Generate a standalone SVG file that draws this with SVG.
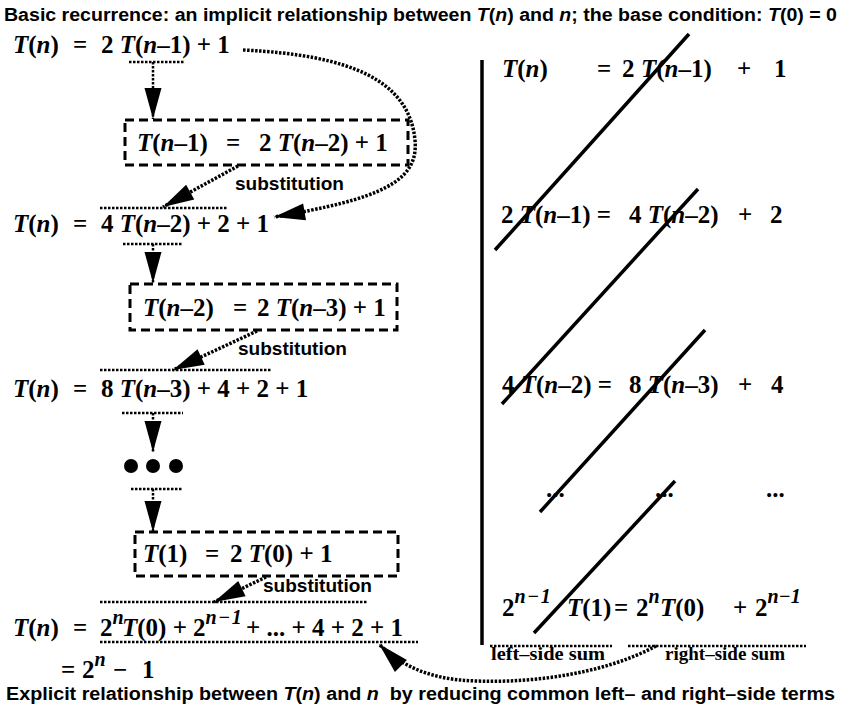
<svg xmlns="http://www.w3.org/2000/svg" width="843" height="709" viewBox="0 0 843 709">
<style>
  .cap { font-family: "Liberation Sans", Arial, sans-serif; font-weight: bold; font-size: 18px; fill: #000; }
  .eq { font-family: "Liberation Serif", "Times New Roman", serif; font-weight: bold; font-size: 25px; fill: #000; }
  .sup { font-style: italic; font-size: 20px; }
  .lbl { font-family: "Liberation Serif", "Times New Roman", serif; font-weight: bold; font-size: 18px; fill: #000; }
  .i { font-style: italic; }
  .box { fill: none; stroke: #000; stroke-width: 3; stroke-dasharray: 9 5; }
  .ul { fill: none; stroke: #000; stroke-width: 2.5; stroke-dasharray: 2.5 1.5; }
  .dot { fill: none; stroke: #000; stroke-width: 3.5; stroke-dasharray: 2.5 1.5; }
  .solid { fill: none; stroke: #000; stroke-width: 3.5; }
</style>
<defs>
  <marker id="ah" markerUnits="userSpaceOnUse" orient="auto" overflow="visible" markerWidth="1" markerHeight="1" refX="0" refY="0">
    <path d="M0,0 L-31,-8.5 L-31,8.5 Z" fill="#000"/>
  </marker>
</defs>

<g id="title">
  <text class="cap" x="4" y="21" textLength="833" lengthAdjust="spacingAndGlyphs">Basic recurrence: an implicit relationship between <tspan class="i">T</tspan>(<tspan class="i">n</tspan>) and <tspan class="i">n</tspan>; the base condition: <tspan class="i">T</tspan>(0) = 0</text>
</g>

<g id="eq1">
  <text class="eq" y="53"><tspan x="13" class="i">T</tspan>(<tspan class="i">n</tspan>)<tspan x="73">=</tspan><tspan x="101">2 </tspan><tspan class="i">T</tspan>(<tspan class="i">n</tspan>–1) + 1</text>
</g>

<g id="box1">
  <rect class="box" x="125" y="120" width="283" height="45"/>
  <text class="eq" y="151"><tspan x="137" class="i">T</tspan>(<tspan class="i">n</tspan>–1)<tspan x="226">=</tspan><tspan x="259">2 </tspan><tspan class="i">T</tspan>(<tspan class="i">n</tspan>–2) + 1</text>
</g>

<g id="eq2">
  <text class="eq" y="232"><tspan x="13" class="i">T</tspan>(<tspan class="i">n</tspan>)<tspan x="73">=</tspan><tspan x="101">4 </tspan><tspan class="i">T</tspan>(<tspan class="i">n</tspan>–2) + 2 + 1</text>
</g>

<g id="box2">
  <rect class="box" x="130" y="284" width="267" height="46"/>
  <text class="eq" y="316"><tspan x="143" class="i">T</tspan>(<tspan class="i">n</tspan>–2)<tspan x="233">=</tspan><tspan x="257">2 </tspan><tspan class="i">T</tspan>(<tspan class="i">n</tspan>–3) + 1</text>
</g>

<g id="eq3">
  <text class="eq" y="397"><tspan x="13" class="i">T</tspan>(<tspan class="i">n</tspan>)<tspan x="73">=</tspan><tspan x="101">8 </tspan><tspan class="i">T</tspan>(<tspan class="i">n</tspan>–3) + 4 + 2 + 1</text>
</g>

<g id="ellipsis">
  <circle cx="131" cy="466" r="7"/>
  <circle cx="153" cy="466" r="7"/>
  <circle cx="176" cy="466" r="7"/>
</g>

<g id="box3">
  <rect class="box" x="135" y="532" width="263" height="44"/>
  <text class="eq" y="562"><tspan x="143" class="i">T</tspan>(1)<tspan x="205">=</tspan><tspan x="230">2 </tspan><tspan class="i">T</tspan>(0) + 1</text>
</g>

<g id="eq4">
  <text class="eq" y="636"><tspan x="13" class="i">T</tspan>(<tspan class="i">n</tspan>)<tspan x="73">=</tspan><tspan x="100">2</tspan><tspan class="sup" dy="-12">n</tspan><tspan x="122" dy="12" class="i">T</tspan>(0) +<tspan x="193">2</tspan><tspan class="sup" dy="-12" letter-spacing="1.5">n−1</tspan><tspan x="246" dy="12">+ ... + 4 + 2 + 1</tspan></text>
</g>

<g id="result">
  <text class="eq" y="678"><tspan x="61">=</tspan><tspan x="82">2</tspan><tspan class="sup" dy="-12">n</tspan><tspan x="113" dy="12">−</tspan><tspan x="142">1</tspan></text>
</g>

<g id="caption">
  <text class="cap" x="6" y="700" textLength="829" lengthAdjust="spacingAndGlyphs" xml:space="preserve">Explicit relationship between <tspan class="i">T</tspan>(<tspan class="i">n</tspan>) and <tspan class="i">n</tspan>  by reducing common left– and right–side terms</text>
</g>

<g id="sub1"><text class="cap" x="235" y="190" textLength="109" lengthAdjust="spacingAndGlyphs">substitution</text></g>
<g id="sub2"><text class="cap" x="238" y="355" textLength="109" lengthAdjust="spacingAndGlyphs">substitution</text></g>
<g id="sub3"><text class="cap" x="263" y="592" textLength="109" lengthAdjust="spacingAndGlyphs">substitution</text></g>

<g id="row1">
  <text class="eq" y="77"><tspan x="502" class="i">T</tspan>(<tspan class="i">n</tspan>)<tspan x="597">=</tspan><tspan x="622">2</tspan><tspan x="641" class="i">T</tspan>(<tspan class="i">n</tspan>–1)<tspan x="737">+</tspan><tspan x="774">1</tspan></text>
</g>
<g id="row2">
  <text class="eq" y="223"><tspan x="501">2 </tspan><tspan class="i">T</tspan>(<tspan class="i">n</tspan>–1) =<tspan x="629">4 </tspan><tspan class="i">T</tspan>(<tspan class="i">n</tspan>–2)<tspan x="738">+</tspan><tspan x="770">2</tspan></text>
</g>
<g id="row3">
  <text class="eq" y="393"><tspan x="502">4 </tspan><tspan class="i">T</tspan>(<tspan class="i">n</tspan>–2) =<tspan x="629">8 </tspan><tspan class="i">T</tspan>(<tspan class="i">n</tspan>–3)<tspan x="738">+</tspan><tspan x="771">4</tspan></text>
</g>
<g id="row4">
  <text class="eq" y="497"><tspan x="546">...</tspan><tspan x="655">...</tspan><tspan x="766">...</tspan></text>
</g>
<g id="row5">
  <text class="eq" y="616"><tspan x="502">2</tspan><tspan class="sup" dy="-13" letter-spacing="1.5">n−1</tspan><tspan x="567" dy="13" class="i">T</tspan>(1)<tspan x="614">=</tspan><tspan x="636">2</tspan><tspan class="sup" dy="-13">n</tspan><tspan x="660" dy="13" class="i">T</tspan>(0)<tspan x="733">+</tspan><tspan x="755">2</tspan><tspan class="sup" dy="-13">n−1</tspan></text>
</g>
<g id="sums">
  <line class="ul" x1="490" y1="646" x2="612" y2="646"/>
  <line class="ul" x1="628" y1="646" x2="806" y2="646"/>
  <text class="lbl" x="491" y="660" textLength="114" lengthAdjust="spacingAndGlyphs">left–side sum</text>
  <text class="lbl" x="665" y="660" textLength="120" lengthAdjust="spacingAndGlyphs">right–side sum</text>
</g>

<g id="strikes">
  <line class="solid" x1="482" y1="60" x2="482" y2="645"/>
  <line class="solid" x1="689" y1="34" x2="495" y2="250"/>
  <line class="solid" x1="698" y1="189" x2="502" y2="404"/>
  <line class="solid" x1="705" y1="330" x2="540" y2="512"/>
  <line class="solid" x1="675" y1="481" x2="534" y2="633"/>
</g>

<g id="connectors">
  <line class="ul" x1="129" y1="62" x2="185" y2="62"/>
  <line class="ul" x1="153" y1="62" x2="153" y2="119" marker-end="url(#ah)"/>
  <path class="dot" d="M243,50 C350,55 409,80 415,140 C419,182 380,199 274,217" marker-end="url(#ah)"/>
  <path class="dot" d="M238,166 L163,207" marker-end="url(#ah)"/>
  <line class="ul" x1="100" y1="208" x2="228" y2="208"/>
  <line class="ul" x1="123" y1="244" x2="183" y2="244"/>
  <line class="ul" x1="153" y1="244" x2="153" y2="283" marker-end="url(#ah)"/>
  <path class="dot" d="M257,331 L173,370" marker-end="url(#ah)"/>
  <line class="ul" x1="100" y1="370" x2="272" y2="370"/>
  <line class="ul" x1="122" y1="413" x2="183" y2="413"/>
  <line class="ul" x1="153" y1="413" x2="153" y2="452" marker-end="url(#ah)"/>
  <line class="ul" x1="131" y1="489" x2="183" y2="489"/>
  <line class="ul" x1="153" y1="489" x2="153" y2="532" marker-end="url(#ah)"/>
  <path class="dot" d="M266,577 L214,602" marker-end="url(#ah)"/>
  <line class="ul" x1="100" y1="602" x2="368" y2="602"/>
  <line class="ul" x1="100" y1="642" x2="418" y2="642"/>
  <path class="dot" d="M656,646 C600,676 520,685 460,680 C430,677 402,667 379,644" marker-end="url(#ah)"/>
</g>
</svg>
